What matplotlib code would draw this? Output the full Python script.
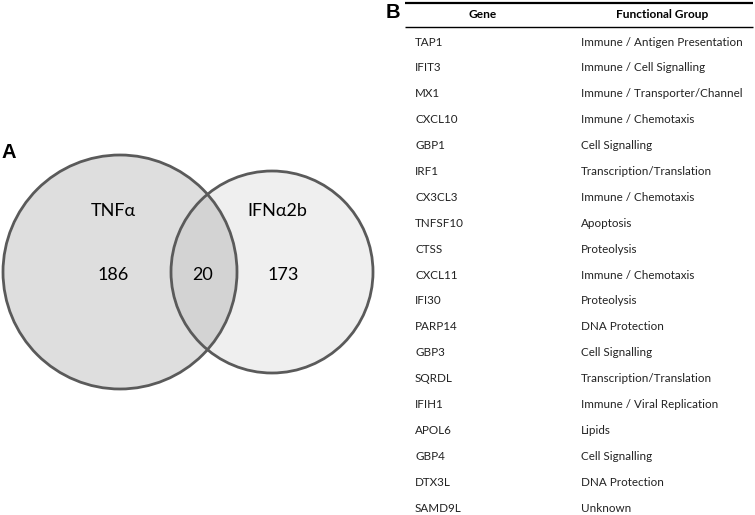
import matplotlib.pyplot as plt
from matplotlib.patches import Circle

plt.rcParams['font.family'] = ['Lato', 'DejaVu Sans']

# Venn data
set_names = ['TNFα', 'IFNα2b']
only_counts = [186, 173]
shared_count = 20

# Table data
header = ['Gene', 'Functional Group']
genes = ['TAP1', 'IFIT3', 'MX1', 'CXCL10', 'GBP1', 'IRF1', 'CX3CL3', 'TNFSF10',
         'CTSS', 'CXCL11', 'IFI30', 'PARP14', 'GBP3', 'SQRDL', 'IFIH1', 'APOL6',
         'GBP4', 'DTX3L', 'SAMD9L']
groups = ['Immune / Antigen Presentation', 'Immune / Cell Signalling',
          'Immune / Transporter/Channel', 'Immune / Chemotaxis', 'Cell Signalling',
          'Transcription/Translation', 'Immune / Chemotaxis', 'Apoptosis',
          'Proteolysis', 'Immune / Chemotaxis', 'Proteolysis', 'DNA Protection',
          'Cell Signalling', 'Transcription/Translation', 'Immune / Viral Replication',
          'Lipids', 'Cell Signalling', 'DNA Protection', 'Unknown']

fig = plt.figure(figsize=(7.55, 5.15), dpi=100)
ax = fig.add_axes([0, 0, 1, 1])
ax.set_xlim(0, 755)
ax.set_ylim(515, 0)
ax.axis('off')

# --- panel A: Venn ---
edge = '#5a5a5a'
c1 = Circle((120, 272), 117, facecolor='#dedede', edgecolor='none')
c2 = Circle((272, 272), 101, facecolor='#efefef', edgecolor='none')
ax.add_patch(c1)
ax.add_patch(c2)
inter = Circle((120, 272), 117, facecolor='#d3d3d3', edgecolor='none')
ax.add_patch(inter)
inter.set_clip_path(Circle((272, 272), 101, transform=ax.transData))
ax.add_patch(Circle((120, 272), 117, fill=False, edgecolor=edge, lw=2.0))
ax.add_patch(Circle((272, 272), 101, fill=False, edgecolor=edge, lw=2.0))

ax.text(113, 211, set_names[0], fontsize=13, ha='center', va='center')
ax.text(277, 211, set_names[1], fontsize=13, ha='center', va='center')
ax.text(113, 275, str(only_counts[0]), fontsize=13, ha='center', va='center')
ax.text(203, 275, str(shared_count), fontsize=13, ha='center', va='center')
ax.text(283, 275, str(only_counts[1]), fontsize=13, ha='center', va='center')
ax.text(2, 152, 'A', fontsize=14.5, fontweight='bold', family='Liberation Sans',
        ha='left', va='center')

# --- panel B: table ---
ax.text(386, 12, 'B', fontsize=14.5, fontweight='bold', family='Liberation Sans',
        ha='left', va='center')
ax.plot([405, 753], [3, 3], color='black', lw=1.6, solid_capstyle='butt')
ax.plot([405, 753], [27, 27], color='black', lw=1.0, solid_capstyle='butt')
ax.text(483, 15, header[0], fontsize=8.6, fontweight='bold', ha='center', va='center')
ax.text(662, 15, header[1], fontsize=8.6, fontweight='bold', ha='center', va='center')

y0, step = 42, 25.9
for i, (g, f) in enumerate(zip(genes, groups)):
    y = y0 + i * step
    ax.text(415, y, g, fontsize=8.4, color='#222222', ha='left', va='center')
    ax.text(581, y, f, fontsize=8.4, color='#222222', ha='left', va='center')

fig.savefig('out.png', dpi=100)
